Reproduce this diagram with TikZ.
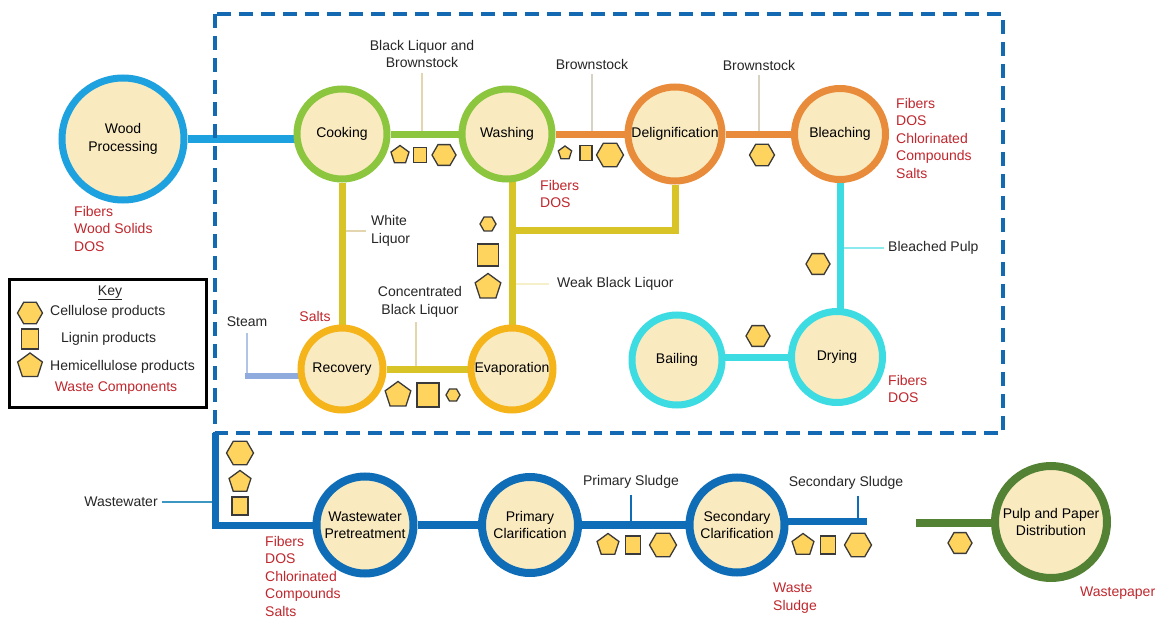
\documentclass[tikz,border=0pt]{standalone}
\usepackage{fontspec}
\setmainfont{Liberation Sans}
\usetikzlibrary{shapes.geometric}
\newcommand\labfont{\fontsize{14}{17.5}\selectfont}
\definecolor{woodblue}{HTML}{1DA1DF}
\definecolor{greenc}{HTML}{8CC63F}
\definecolor{orangec}{HTML}{E88B3A}
\definecolor{goldc}{HTML}{F4B41A}
\definecolor{cyanc}{HTML}{3CDCE2}
\definecolor{darkblue}{HTML}{0E6DB6}
\definecolor{pulpgreen}{HTML}{548235}
\definecolor{yline}{HTML}{D8C427}
\definecolor{fillc}{HTML}{F9EAC0}
\definecolor{symfill}{HTML}{FFD45E}
\definecolor{symline}{HTML}{3A3A3A}
\definecolor{wastered}{HTML}{C0272D}
\definecolor{steamc}{HTML}{8FAADC}
\definecolor{dashc}{HTML}{1469B3}
\definecolor{tanc}{HTML}{E3D6AE}
\definecolor{greyc}{HTML}{D8D2C2}
\pgfdeclarelayer{bg}
\pgfsetlayers{bg,main}
\tikzset{
  proc/.style={circle, fill=fillc, line width=7, inner sep=0, align=center, font=\labfont},
  hexa/.style={regular polygon, regular polygon sides=6, draw=symline, fill=symfill, line width=1.3, inner sep=0, minimum size=#1},
  hexa/.default=24,
  penta/.style={regular polygon, regular polygon sides=5, draw=symline, fill=symfill, line width=1.3, inner sep=0, minimum size=#1},
  penta/.default=24,
  sqbox/.style={rectangle, draw=symline, fill=symfill, line width=1.3, inner sep=0},
  lbl/.style={font=\labfont, inner sep=0, align=center, text=black!85},
  waste/.style={font=\labfont, inner sep=0, align=left, anchor=north west, text=wastered},
  callout/.style={line width=1.1},
  flow/.style={line width=#1},
  flow/.default=7
}
\begin{document}
\begin{tikzpicture}[x=1pt,y=-1pt]
\useasboundingbox (0,0) rectangle (1160,618);
% process circles
\node[proc, draw=woodblue, minimum size=122] (wood) at (123,139) {Wood\\Processing};
\node[proc, draw=greenc, minimum size=90] (cook) at (342,134) {Cooking};
\node[proc, draw=greenc, minimum size=90] (wash) at (507,134) {Washing};
\node[proc, draw=orangec, minimum size=94] (delig) at (675,134) {Delignification};
\node[proc, draw=orangec, minimum size=91] (bleach) at (840,134) {Bleaching};
\node[proc, draw=goldc, minimum size=82] (rec) at (342,369) {Recovery};
\node[proc, draw=goldc, minimum size=82] (evap) at (512,369) {Evaporation};
\node[proc, draw=cyanc, minimum size=90] (bail) at (677,360) {Bailing};
\node[proc, draw=cyanc, minimum size=91] (dry) at (837,357) {Drying};
\node[proc, draw=darkblue, line width=8, minimum size=97] (pre) at (365,525) {Wastewater\\Pretreatment};
\node[proc, draw=darkblue, line width=8, minimum size=96] (prim) at (530,525) {Primary\\Clarification};
\node[proc, draw=darkblue, line width=8, minimum size=95] (sec) at (737,525) {Secondary\\Clarification};
\node[proc, draw=pulpgreen, line width=8, minimum size=112] (pulp) at (1051,522) {Pulp and Paper\\Distribution};
% free ends
\coordinate (j1) at (512,230);
\coordinate (steamend) at (245,376);
\coordinate (wwtop) at (215,433);
\coordinate (secend) at (867,521);
\coordinate (pulpend) at (916,523);
% labels
\node[lbl] (bl) at (422,54) {Black Liquor and\\Brownstock};
\node[lbl] (bs1) at (592,64) {Brownstock};
\node[lbl] (bs2) at (759,65) {Brownstock};
\node[lbl, anchor=west, align=left] (wl) at (371,231) {White\\Liquor};
\node[lbl] (cbl) at (420,302) {Concentrated\\Black Liquor};
\node[lbl, anchor=west] (wbl) at (557,284) {Weak Black Liquor};
\node[lbl, anchor=west] (bp) at (888,248) {Bleached Pulp};
\node[lbl] (steam) at (247,322) {Steam};
\node[lbl] (ww) at (121,502) {Wastewater};
\node[lbl] (ps) at (631,482) {Primary Sludge};
\node[lbl] (ss) at (846,483) {Secondary Sludge};
% waste components
\node[waste] (w1) at (74,206) {Fibers\\Wood Solids\\DOS};
\node[waste, anchor=center] (w2) at (315,316) {Salts};
\node[waste] (w3) at (540,180) {Fibers\\DOS};
\node[waste] (w4) at (896,98) {Fibers\\DOS\\Chlorinated\\Compounds\\Salts};
\node[waste] (w5) at (888,375) {Fibers\\DOS};
\node[waste] (w6) at (265,536) {Fibers\\DOS\\Chlorinated\\Compounds\\Salts};
\node[waste] (w7) at (773,583) {Waste\\Sludge};
\node[waste, anchor=west] (w8) at (1080,593) {Wastepaper};
% key
\node[draw=black, line width=3, minimum width=197, minimum height=128, inner sep=0] (key) at (107.5,343) {};
\node[lbl] (keyt) at (110,293) {\underline{Key}};
\node[hexa=25] (k1) at (30,313) {};
\node[sqbox, minimum width=17, minimum height=20] (k2) at (30,339) {};
\node[penta=26] (k3) at (30,366) {};
\node[lbl, anchor=west] (k1t) at (50,312) {Cellulose products};
\node[lbl, anchor=west] (k2t) at (61,339) {Lignin products};
\node[lbl, anchor=west] (k3t) at (50,367) {Hemicellulose products};
\node[lbl, text=wastered] (k4t) at (116,388) {Waste Components};
% product symbols
\node[penta=19] (s1) at (400,155) {};
\node[sqbox, minimum width=13, minimum height=15] (s2) at (420,155) {};
\node[hexa=24] (s3) at (444,155) {};
\node[penta=14] (s4) at (565,153) {};
\node[sqbox, minimum width=12, minimum height=15] (s5) at (586,153) {};
\node[hexa=27] (s6) at (610,155) {};
\node[hexa=25] (s7) at (762,155) {};
\node[hexa=16] (s8) at (488,224) {};
\node[sqbox, minimum width=21, minimum height=22] (s9) at (488,255) {};
\node[penta=27] (s10) at (488,287) {};
\node[penta=27] (s11) at (398,395) {};
\node[sqbox, minimum width=22, minimum height=24] (s12) at (428,395) {};
\node[hexa=14] (s13) at (453,395) {};
\node[hexa=24] (s14) at (818,264) {};
\node[hexa=24] (s15) at (758,336) {};
\node[hexa=27] (s16) at (240,453) {};
\node[penta=23] (s17) at (240,482) {};
\node[sqbox, minimum width=16, minimum height=18] (s18) at (240,506) {};
\node[penta=23] (s19) at (608,545) {};
\node[sqbox, minimum width=15, minimum height=18] (s20) at (633,545) {};
\node[hexa=27] (s21) at (663,545) {};
\node[penta=23] (s22) at (803,545) {};
\node[sqbox, minimum width=15, minimum height=18] (s23) at (828,545) {};
\node[hexa=27] (s24) at (858,545) {};
\node[hexa=24] (s25) at (960,543) {};
\begin{pgfonlayer}{bg}
\fill[white] (0,0) rectangle (1160,618);
% callout lines
\draw[callout, tanc, shorten <=5] (bl.south) -- (bl.south |- cook);
\draw[callout, greyc, shorten <=5] (bs1.south) -- (bs1.south |- wash);
\draw[callout, greyc, shorten <=5] (bs2.south) -- (bs2.south |- delig);
\draw[callout, tanc, shorten <=5] (wl.west) -- (wl.west -| cook);
\draw[callout, tanc, shorten <=5] ([xshift=-4]cbl.south) -- ([xshift=-4]cbl.south |- rec);
\draw[callout, yline!25, shorten <=8] (wbl.west) -- (wbl.west -| evap);
\draw[callout, cyanc!60, shorten <=4] (bp.west) -- (bp.west -| bleach);
\draw[callout, steamc!70, shorten <=6] (steam.south) -- (steam.south |- steamend);
\draw[callout, woodblue!70!gray, shorten <=4] (ww.east) -- (ww.east -| wwtop);
\draw[callout, darkblue, shorten <=6] (ps.south) -- (ps.south |- prim);
\draw[callout, darkblue, shorten <=6] ([xshift=12]ss.south) -- ([xshift=12]ss.south |- secend);
% flows
\draw[flow=8, woodblue] (wood) -- (wood -| cook);
\draw[flow, greenc] (cook) -- (wash);
\draw[flow, orangec] (wash) -- (delig);
\draw[flow, orangec] (delig) -- (bleach);
\draw[flow, yline] (evap) -- (evap |- wash);
\draw[flow, yline] (delig) |- (j1);
\draw[flow, yline] (cook) -- (rec);
\draw[flow, yline] (rec) -- (evap);
\draw[flow=6, steamc] (steamend) -- (steamend -| rec);
\draw[flow=7, cyanc] (bleach) -- (bleach |- dry);
\draw[flow=7, cyanc] (dry) -- (dry -| bail);
\draw[flow=7, darkblue] (wwtop) |- (pre);
\draw[flow=8, darkblue] (pre) -- (prim);
\draw[flow=8, darkblue] (prim) -- (sec);
\draw[flow=7, darkblue] (secend -| sec) -- (secend);
\draw[flow=8, pulpgreen] (pulpend) -- (pulpend -| pulp);
% dashed boundary
\draw[dashc, line width=4.5, dash pattern=on 14 off 8] (215,14) rectangle (1003,433);
\end{pgfonlayer}
\end{tikzpicture}
\end{document}
